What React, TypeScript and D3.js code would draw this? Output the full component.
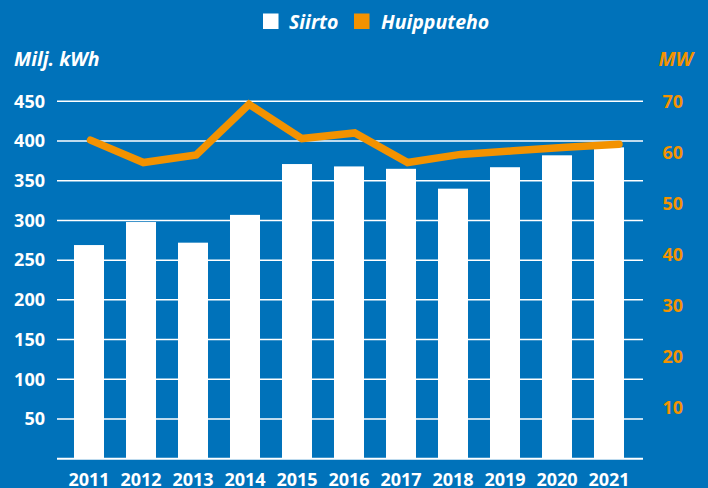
import React from "react";
import * as d3 from "d3";

const years = ["2011","2012","2013","2014","2015","2016","2017","2018","2019","2020","2021"];
const siirto = [269, 298, 272, 307, 371, 368, 365, 340, 367, 382, 392];
const huipputeho = [62.4, 58.0, 59.5, 69.4, 62.7, 63.8, 58.0, 59.6, 60.3, 61.0, 61.6];
const leftTicks = [50, 100, 150, 200, 250, 300, 350, 400, 450];
const rightTicks = [10, 20, 30, 40, 50, 60, 70];

const W = 708, H = 488;
const BLUE = "#0072BA";
const ORANGE = "#F39200";
const FONT = "'Open Sans', sans-serif";

export default function App() {
  const x = d3.scaleBand<string>().domain(years).range([63, 635]).paddingInner(0.423).paddingOuter(0.2115);
  const xl = d3.scalePoint<string>().domain(years).range([90.5, 619]);
  const yL = d3.scaleLinear().domain([0, 450]).range([458.7, 101.3]);
  const yR = d3.scaleLinear().domain([0, 70]).range([458.7, 101.3]);
  const line = d3.line<number>().x((_, i) => xl(years[i])!).y(d => yR(d));
  const gx0 = 57, gx1 = 643;
  return (
    <div style={{ position: "fixed", left: 0, top: 0, width: W, height: H }}>
      <svg width={W} height={H} style={{ display: "block" }} fontFamily={FONT}>
        <rect width={W} height={H} fill={BLUE} />
        {/* legend */}
        <rect x={263} y={13.5} width={15.5} height={15.5} fill="#fff" />
        <text x={289} y={28.5} fill="#fff" fontSize={19.5} fontWeight={700} fontStyle="italic">Siirto</text>
        <rect x={354} y={13.5} width={15.5} height={15.5} fill={ORANGE} />
        <text x={381} y={28.5} fill="#fff" fontSize={19.5} fontWeight={700} fontStyle="italic">Huipputeho</text>
        {/* axis titles */}
        <text x={14} y={66} fill="#fff" fontSize={19.5} fontWeight={700} fontStyle="italic">Milj. kWh</text>
        <text x={693} y={66} textAnchor="end" fill={ORANGE} fontSize={19.5} fontWeight={700} fontStyle="italic">MW</text>
        {/* gridlines */}
        {leftTicks.map(t => (
          <line key={t} x1={gx0} x2={gx1} y1={yL(t)} y2={yL(t)} stroke="#fff" strokeWidth={1.5} />
        ))}
        <line x1={gx0} x2={gx1} y1={yL(0)} y2={yL(0)} stroke="#fff" strokeWidth={2} />
        {/* bars */}
        {years.map((yr, i) => (
          <rect key={yr} x={x(yr)!} width={x.bandwidth()} y={yL(siirto[i])} height={yL(0) - yL(siirto[i])} fill="#fff" />
        ))}
        {/* line */}
        <path d={line(huipputeho)!} fill="none" stroke={ORANGE} strokeWidth={7.5} strokeLinecap="round" strokeLinejoin="miter" />
        {/* left tick labels */}
        {leftTicks.map(t => (
          <text key={t} x={45} y={yL(t)} dy="0.35em" textAnchor="end" fill="#fff" fontSize={18} fontWeight={700}>{t}</text>
        ))}
        {/* right tick labels */}
        {rightTicks.map(t => (
          <text key={t} x={683} y={yR(t)} dy="0.35em" textAnchor="end" fill={ORANGE} fontSize={18} fontWeight={700}>{t}</text>
        ))}
        {/* x labels */}
        {years.map(yr => (
          <text key={yr} x={x(yr)! + x.bandwidth() / 2} y={486} textAnchor="middle" fill="#fff" fontSize={18} fontWeight={700}>{yr}</text>
        ))}
      </svg>
    </div>
  );
}
